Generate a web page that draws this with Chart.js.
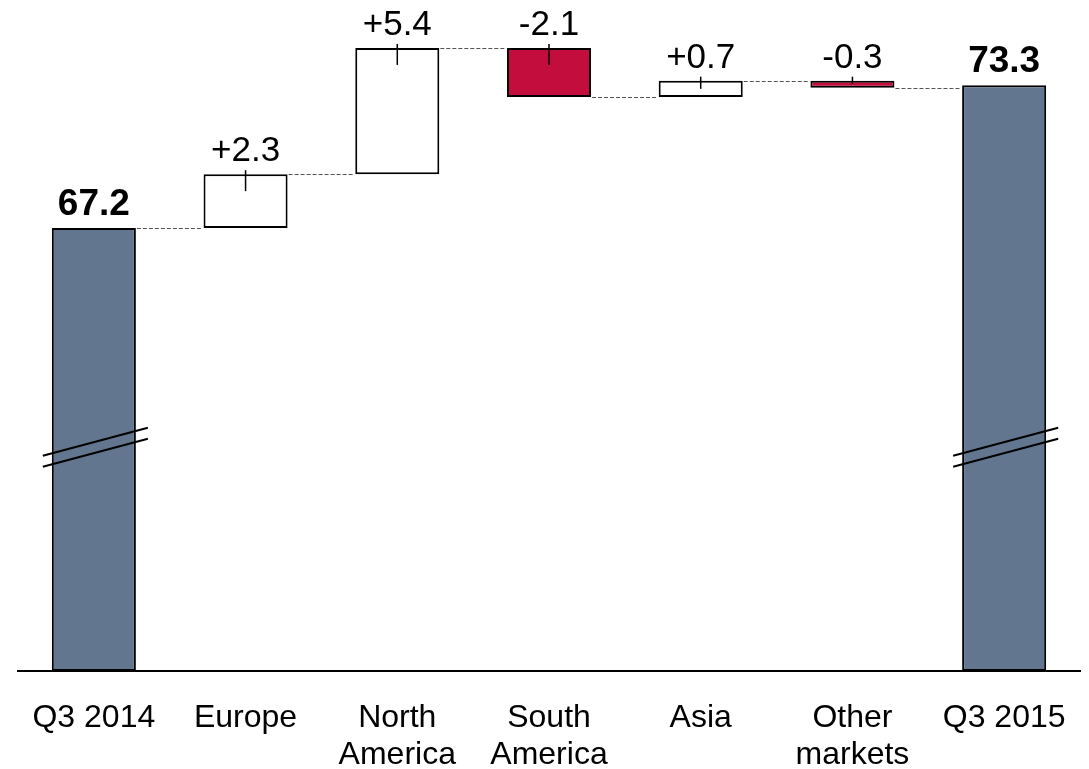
<!DOCTYPE html>
<html>
<head>
<meta charset="utf-8">
<script src="https://cdn.jsdelivr.net/npm/chart.js@4.4.1/dist/chart.umd.min.js"></script>
<style>
    html, body { margin: 0; padding: 0; background: #fff; }
    #wrap { width: 1089px; height: 769px; position: relative; }
</style>
</head>
<body>
<div id="wrap"><canvas id="waterfall-chart"></canvas></div>
<script>
const categories = [['Q3 2014'], ['Europe'], ['North', 'America'], ['South', 'America'], ['Asia'], ['Other', 'markets'], ['Q3 2015']];
const startTotal = 67.2;
const endTotal = 73.3;
const changes = [2.3, 5.4, -2.1, 0.7, -0.3];

// broken value axis: the bottom of the plot is not zero
const axisMin = 48.25;
const axisMax = 76.95;
const breakValue = 57.8;

const totalColor = '#62778f';
const negColor = '#c30d3c';
const posColor = '#ffffff';
const fontFamily = '"Liberation Sans", Arial, sans-serif';

// Build floating ranges and running levels from the changes
const ranges = [[axisMin, startTotal]];
const levels = [startTotal];
const labels = [startTotal.toFixed(1)];
const colors = [totalColor];
let running = startTotal;
changes.forEach(c => {
    const next = Math.round((running + c) * 10) / 10;
    ranges.push([running, next]);
    levels.push(next);
    labels.push(c > 0 ? '+' + c.toFixed(1) : c.toFixed(1));
    colors.push(c < 0 ? negColor : posColor);
    running = next;
});
ranges.push([axisMin, endTotal]);
labels.push(endTotal.toFixed(1));
colors.push(totalColor);

const waterfallDecor = {
    id: 'waterfallDecor',
    afterDatasetsDraw(chart) {
        const ctx = chart.ctx;
        const meta = chart.getDatasetMeta(0);
        const y = chart.scales.y;
        const n = meta.data.length;
        ctx.save();

        // dashed connectors between bars
        ctx.strokeStyle = '#555';
        ctx.lineWidth = 1;
        ctx.setLineDash([4, 2]);
        for (let i = 0; i < n - 1; i++) {
            const a = meta.data[i], b = meta.data[i + 1];
            const py = Math.round(y.getPixelForValue(levels[i])) + 0.5;
            ctx.beginPath();
            ctx.moveTo(a.x + a.width / 2 + 1, py);
            ctx.lineTo(b.x - b.width / 2 - 1, py);
            ctx.stroke();
        }
        ctx.setLineDash([]);

        meta.data.forEach((bar, i) => {
            const top = Math.min(bar.y, bar.base);
            const bottom = Math.max(bar.y, bar.base);
            const isTotal = i === 0 || i === n - 1;

            ctx.strokeStyle = '#000';
            if (isTotal) {
                // axis break marks
                const by = y.getPixelForValue(breakValue);
                const x0 = bar.x - bar.width / 2 - 9;
                const x1 = bar.x + bar.width / 2 + 12;
                const slope = 28 / 105;
                ctx.lineWidth = 2;
                [-5.5, 5.5].forEach(off => {
                    ctx.beginPath();
                    ctx.moveTo(x0, by + off + (bar.x - x0) * slope);
                    ctx.lineTo(x1, by + off - (x1 - bar.x) * slope);
                    ctx.stroke();
                });
            } else {
                // small marker at the top of each change bar
                ctx.lineWidth = 1.5;
                ctx.beginPath();
                ctx.moveTo(bar.x, top - 4);
                ctx.lineTo(bar.x, top + Math.min(17, (bottom - top) / 2));
                ctx.stroke();
            }

            ctx.fillStyle = '#000';
            ctx.textAlign = 'center';
            ctx.textBaseline = 'alphabetic';
            ctx.font = isTotal ? 'bold 37px ' + fontFamily : '35px ' + fontFamily;
            ctx.fillText(labels[i], bar.x, top - 13);
        });
        ctx.restore();
    }
};

const ctx = document.getElementById('waterfall-chart').getContext('2d');
new Chart(ctx, {
    type: 'bar',
    data: {
        labels: categories,
        datasets: [{
            data: ranges,
            backgroundColor: colors,
            borderColor: '#000',
            borderWidth: 2,
            borderSkipped: false,
            barPercentage: 0.554,
            categoryPercentage: 1
        }]
    },
    options: {
        responsive: true,
        maintainAspectRatio: false,
        animation: false,
        layout: {
            padding: { left: 18, right: 9, top: 0, bottom: 0 }
        },
        plugins: {
            legend: { display: false },
            tooltip: { enabled: false }
        },
        scales: {
            y: {
                display: false,
                min: axisMin,
                max: axisMax
            },
            x: {
                grid: { display: false, drawTicks: false },
                border: { display: true, color: '#000', width: 2 },
                ticks: {
                    color: '#000',
                    padding: 28,
                    font: { family: fontFamily, size: 32, lineHeight: 1.18 }
                },
                afterFit: (axis) => {
                    axis.height = 98;
                    axis.paddingLeft = 0;
                    axis.paddingRight = 0;
                }
            }
        }
    },
    plugins: [waterfallDecor]
});
</script>
</body>
</html>
